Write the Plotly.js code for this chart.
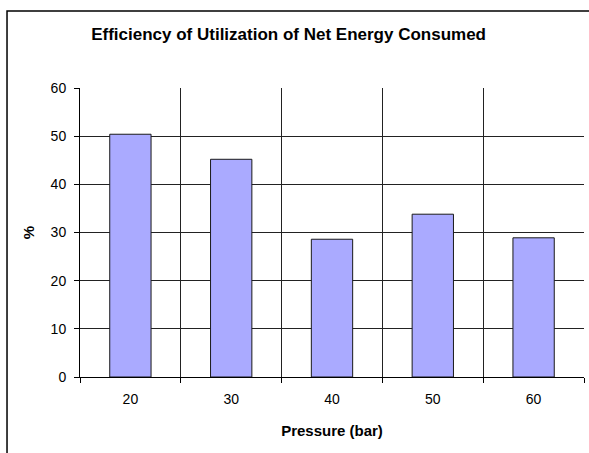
<!DOCTYPE html>
<html>
<head>
<meta charset="utf-8">
<script src="https://cdn.plot.ly/plotly-3.0.1.min.js"></script>
<style>html,body{margin:0;padding:0;background:#fff;}#chart{width:589px;height:453px;}</style>
</head>
<body>
<div id="chart"></div>
<script>
const categories = ["20", "30", "40", "50", "60"];
const efficiency = [50.4, 45.2, 28.6, 33.8, 28.9];
const yTicks = [0, 10, 20, 30, 40, 50, 60];

const trace = {
  type: "bar",
  x: categories,
  y: efficiency,
  marker: { color: "#aaaaff", line: { color: "#1a1a1a", width: 1 } },
  hoverinfo: "x+y"
};

const font = "Liberation Sans, Arial, sans-serif";
const layout = {
  width: 589, height: 453,
  margin: { l: 80, r: 5, t: 88, b: 76 },
  paper_bgcolor: "#fff", plot_bgcolor: "#fff",
  showlegend: false,
  bargap: 0.59,
  font: { family: font, size: 14, color: "#000" },
  title: {
    text: "<b>Efficiency of Utilization of Net Energy Consumed</b>",
    font: { family: font, size: 17, color: "#000" },
    xref: "container", x: 0.49, xanchor: "center",
    yref: "container", y: 0.925, yanchor: "middle"
  },
  xaxis: {
    type: "category",
    tickson: "boundaries",
    range: [-0.5, 4.5],
    showgrid: true, gridcolor: "#222", gridwidth: 1,
    showline: true, linecolor: "#000", linewidth: 1,
    ticks: "outside", ticklen: 5, tickcolor: "#000",
    tickfont: { size: 14 },
    ticklabelstandoff: 9,
    title: { text: "<b>Pressure (bar)</b>", font: { size: 15 }, standoff: 19 }
  },
  yaxis: {
    range: [0, 60],
    tickvals: yTicks,
    showgrid: true, gridcolor: "#222", gridwidth: 1,
    zeroline: false,
    showline: true, linecolor: "#000", linewidth: 1,
    ticks: "outside", ticklen: 5, tickcolor: "#000",
    tickfont: { size: 14 },
    ticklabelstandoff: 5,
    title: { text: "<b>%</b>", font: { size: 15 }, standoff: 12 }
  },
  shapes: [{
    type: "rect", xref: "paper", yref: "paper",
    x0: -0.1448, x1: 1.2, y0: -0.6, y1: 1.2664,
    line: { color: "#000", width: 1.5 }, fillcolor: "rgba(0,0,0,0)", layer: "below"
  }]
};

Plotly.newPlot("chart", [trace], layout, { displayModeBar: false, staticPlot: true });
</script>
</body>
</html>
